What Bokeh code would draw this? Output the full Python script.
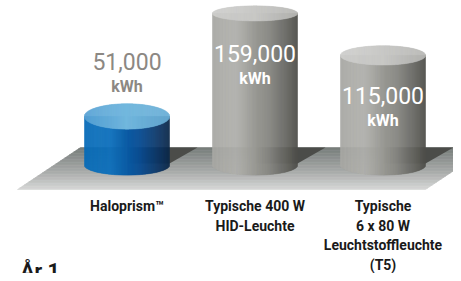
import numpy as np
from bokeh.plotting import figure
from bokeh.models import Range1d
from bokeh.embed import file_html
from bokeh.resources import INLINE
from bokeh.core.properties import value

# ---------------- data ----------------
categories = ["Haloprism™",
              "Typische 400 W\nHID-Leuchte",
              "Typische\n6 x 80 W\nLeuchtstoffleuchte\n(T5)"]
energy_kwh = [51000, 159000, 115000]
value_text = ["51,000", "159,000", "115,000"]
unit_text = "kWh"
highlight = [True, False, False]
footer_text = "År 1"

# ---------------- layout helpers ----------------
W, H = 453, 273
PAGE = 8
BASE = 172.6          # page y of 0 kWh
K = 0.954 / 1000      # pixels per kWh

def to_y(page_y):
    return (BASE - page_y) / K

def px(n):
    return n / K

def mix(stops, t):
    t = float(np.clip(t, 0, 1))
    for (t0, c0), (t1, c1) in zip(stops[:-1], stops[1:]):
        if t <= t1:
            f = 0 if t1 == t0 else (t - t0) / (t1 - t0)
            c = [round(a + (b - a) * f) for a, b in zip(c0, c1)]
            return "#%02x%02x%02x" % tuple(c)
    return "#%02x%02x%02x" % tuple(stops[-1][1])

FONT = value("Roboto")

p = figure(width=W, height=H,
           x_range=Range1d(PAGE, PAGE + W),
           y_range=Range1d(to_y(PAGE + H), to_y(PAGE)),
           output_backend="svg", toolbar_location=None,
           x_axis_location=None, y_axis_location=None,
           min_border=0)
p.grid.visible = False
p.outline_line_color = None
p.background_fill_color = "white"
p.border_fill_color = "white"

# ---------------- floor ----------------
FL_TOP, FL_BOT = 155, 197
FL_LB, FL_RB = 25, 433
SLOPE = (88 - 25) / (FL_BOT - FL_TOP)
floor_stops = [(0, (118, 124, 122)), (0.6, (170, 172, 171)), (1, (214, 215, 214))]
N = 28
fx, fy, fc = [], [], []
for i in range(N):
    y0 = FL_TOP + (FL_BOT - FL_TOP) * i / N
    y1 = FL_TOP + (FL_BOT - FL_TOP) * (i + 1) / N
    s0 = (FL_BOT - y0) * SLOPE
    s1 = (FL_BOT - y1) * SLOPE
    fx.append([FL_LB + s0, FL_RB + s0, FL_RB + s1, FL_LB + s1])
    fy.append([to_y(y0), to_y(y0), to_y(y1), to_y(y1)])
    fc.append(mix(floor_stops, (i + 0.5) / N))
p.patches(fx, fy, fill_color=fc, line_color=fc, line_width=0.6)

# ---------------- cylinders ----------------
X0, STEP = 134.5, 128
A = 42.5
B_BOT = 10
blue_body = [(0, (8, 108, 184)), (0.3, (14, 112, 188)), (0.65, (10, 78, 148)),
             (0.9, (12, 50, 95)), (1, (12, 40, 72))]
gray_body = [(0, (168, 168, 164)), (0.28, (176, 176, 172)), (0.65, (138, 138, 133)),
             (0.9, (96, 96, 91)), (1, (78, 78, 74))]
blue_top = [(0, (88, 162, 212)), (0.5, (115, 184, 222)), (1, (105, 174, 214))]
gray_top = [(0, (206, 206, 204)), (0.5, (200, 200, 198)), (1, (184, 184, 181))]
shadow_col = "#4b4c49"

NS = 86
for i, v in enumerate(energy_kwh):
    xc = X0 + i * STEP
    xr = xc + A
    # shadow on the floor
    sx = [xc, xr + 28, xr, xc]
    sy = [to_y(FL_TOP), to_y(FL_TOP), to_y(171), to_y(171)]
    p.patch(sx, sy, fill_color=shadow_col, line_color=None)

    body = blue_body if highlight[i] else gray_body
    top = blue_top if highlight[i] else gray_top
    edges = np.linspace(xc - A, xc + A, NS + 1)
    mids = (edges[:-1] + edges[1:]) / 2
    u = (mids - xc) / A
    half = np.sqrt(np.clip(1 - u ** 2, 0, 1))
    t = (mids - (xc - A)) / (2 * A)
    bc = [mix(body, tt) for tt in t]
    p.quad(left=edges[:-1], right=edges[1:], bottom=list(-px(B_BOT) * half),
           top=[v] * NS, fill_color=bc, line_color=bc, line_width=0.5)
    # top ellipse (flatter when higher)
    top_py = BASE - v * K
    b_top = 6.5 + 0.05 * top_py
    tc = [mix(top, tt) for tt in t]
    p.quad(left=edges[:-1], right=edges[1:], bottom=list(v - px(b_top) * half),
           top=list(v + px(b_top) * half), fill_color=tc, line_color=tc, line_width=0.5)

    # value labels
    inside = v * K > 80
    if inside:
        y_num, y_unit, col = v - px(40), v - px(65), "white"
    else:
        y_num, y_unit, col = v + px(55), v + px(30), "#8c8883"
    p.text(x=[xc], y=[y_num], text=[value_text[i]], text_align="center",
           text_baseline="middle", text_font=FONT, text_font_size="23px",
           text_color=col)
    p.text(x=[xc], y=[y_unit], text=[unit_text], text_align="center",
           text_baseline="middle", text_font=FONT, text_font_size="16px",
           text_font_style="bold", text_color=col)

    # category labels
    for j, line in enumerate(categories[i].split("\n")):
        p.text(x=[xc], y=[to_y(213.5 + 19.5 * j)], text=[line], text_align="center",
               text_baseline="middle", text_font=FONT, text_font_size="14px",
               text_font_style="bold", text_color="#1a1a1a")

# footer (cut at the bottom edge, as in the original)
p.text(x=[28], y=[to_y(266)], text=[footer_text], text_align="left",
       text_baseline="top", text_font=FONT, text_font_size="21px",
       text_font_style="bold", text_color="#1a1a1a")

open("out.html", "w").write(file_html(p, INLINE))
